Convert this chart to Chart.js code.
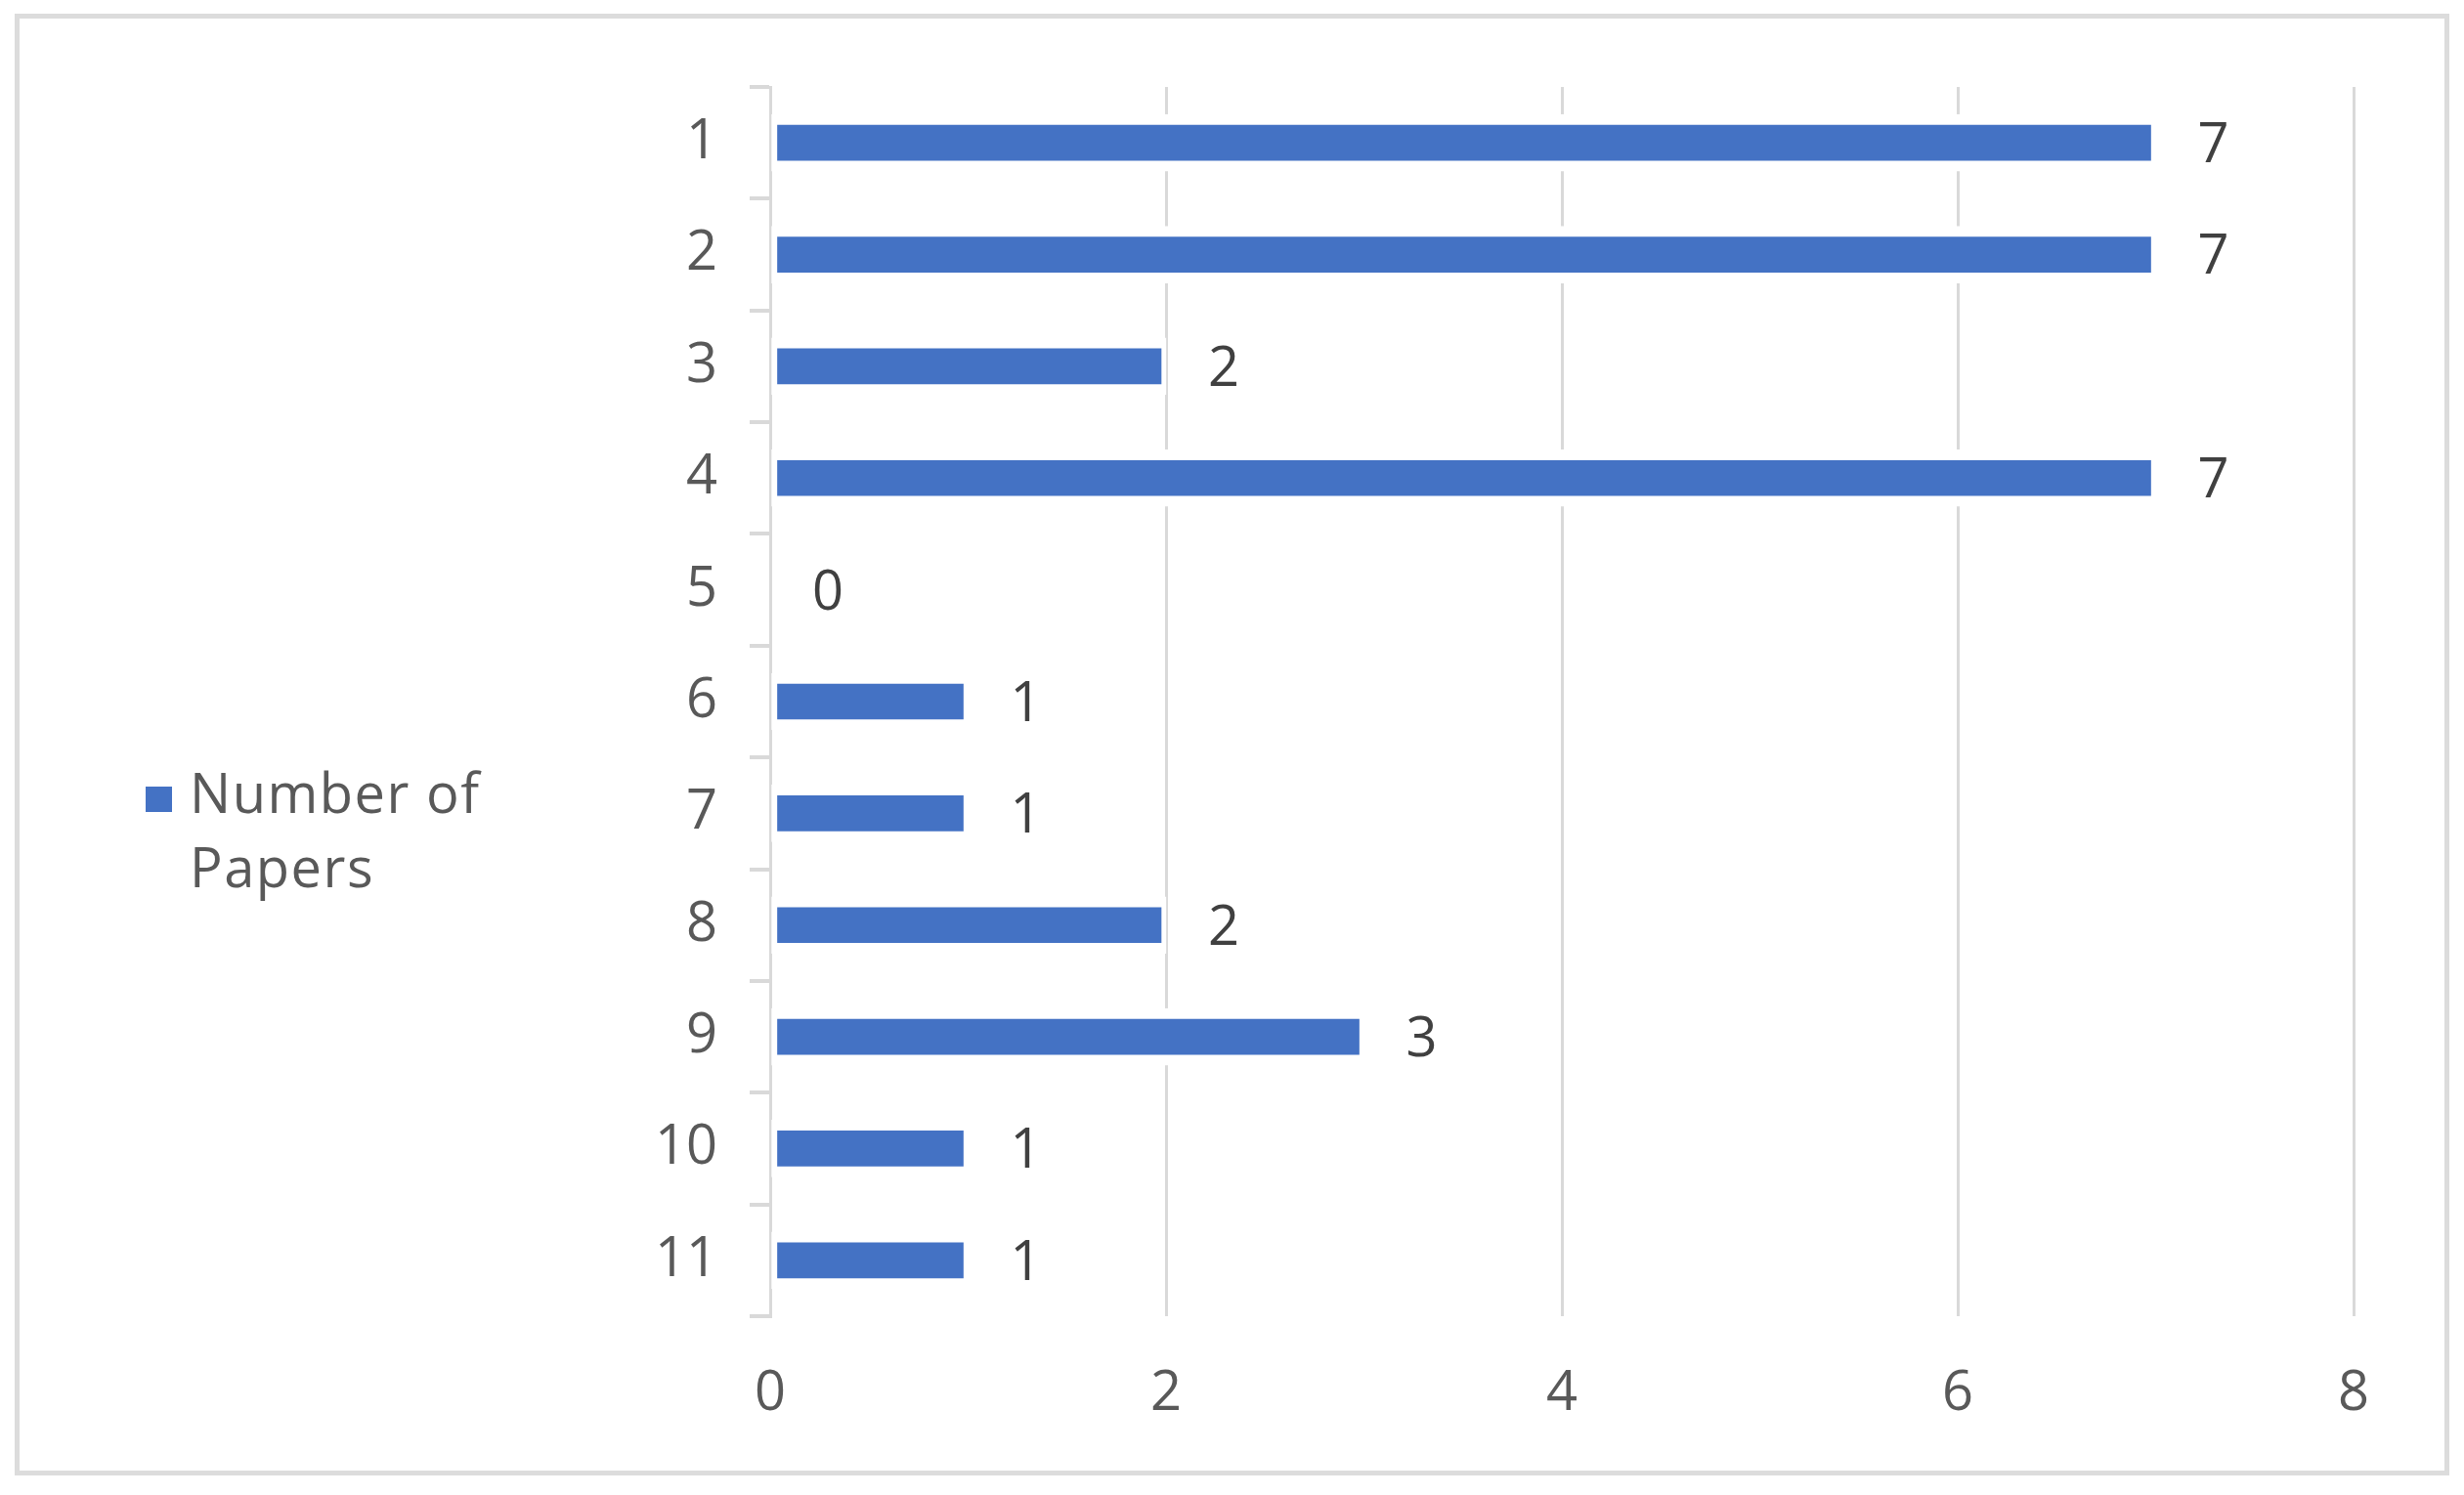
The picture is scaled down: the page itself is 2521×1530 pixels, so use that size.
<!DOCTYPE html>
<html>
<head>
<meta charset="utf-8">
<script src="https://cdn.jsdelivr.net/npm/chart.js@4"></script>
<style>
  html, body { margin: 0; padding: 0; background: #fff; }
  #wrap { width: 2521px; height: 1530px; position: relative; }
</style>
</head>
<body>
<div id="wrap"><canvas id="papersChart"></canvas></div>
<script>
const categories = ['1', '2', '3', '4', '5', '6', '7', '8', '9', '10', '11'];
const paperCounts = [7, 7, 2, 7, 0, 1, 1, 2, 3, 1, 1];
const xTicks = [0, 2, 4, 6, 8];
const seriesName = ['Number of', 'Papers'];

const FONT = '"Open Sans", "Liberation Sans", sans-serif';
const GRID = '#d9d9d9';
const BAR = '#4472c4';

// frame round the whole picture
const framePlugin = {
    id: 'frame',
    beforeDraw(chart) {
        const ctx = chart.ctx;
        ctx.save();
        ctx.fillStyle = '#fff';
        ctx.fillRect(0, 0, chart.width, chart.height);
        ctx.strokeStyle = '#dcdcdc';
        ctx.lineWidth = 5;
        ctx.strokeRect(17.5, 16.5, 2486, 1491);
        ctx.restore();
    }
};

// value labels to the right of each bar
const valueLabels = {
    id: 'valueLabels',
    afterDatasetsDraw(chart) {
        const ctx = chart.ctx;
        const x = chart.scales.x;
        const meta = chart.getDatasetMeta(0);
        ctx.save();
        ctx.font = '56px ' + FONT;
        ctx.fillStyle = '#404040';
        ctx.textAlign = 'left';
        ctx.textBaseline = 'middle';
        meta.data.forEach((bar, i) => {
            const v = paperCounts[i];
            ctx.fillText(String(v), x.getPixelForValue(v) + 43, bar.y + 4);
        });
        ctx.restore();
    }
};

// legend on the left, two lines
const sideLegend = {
    id: 'sideLegend',
    afterDraw(chart) {
        const ctx = chart.ctx;
        ctx.save();
        ctx.fillStyle = BAR;
        ctx.fillRect(149, 805, 27, 26);
        ctx.font = '56px ' + FONT;
        ctx.fillStyle = '#595959';
        ctx.textAlign = 'left';
        ctx.textBaseline = 'alphabetic';
        if ('letterSpacing' in ctx) ctx.letterSpacing = '1.5px';
        seriesName.forEach((line, i) => {
            ctx.fillText(line, 194, 832 + i * 76);
        });
        ctx.restore();
    }
};

document.addEventListener('DOMContentLoaded', function () {
    if (typeof Chart === 'undefined') {
        console.error('Chart.js is not loaded');
        return;
    }
    new Chart(document.getElementById('papersChart').getContext('2d'), {
        type: 'bar',
        data: {
            labels: categories,
            datasets: [{
                label: seriesName.join(' '),
                data: paperCounts,
                backgroundColor: BAR,
                borderColor: '#ffffff',
                borderWidth: { top: 11, bottom: 11, left: 6, right: 5 },
                borderSkipped: false,
                barThickness: 58
            }]
        },
        options: {
            indexAxis: 'y',
            responsive: true,
            maintainAspectRatio: false,
            animation: false,
            layout: { padding: { top: 89, right: 113, bottom: 75, left: 0 } },
            plugins: {
                legend: { display: false },
                tooltip: { enabled: false }
            },
            scales: {
                x: {
                    min: 0,
                    max: 8,
                    afterBuildTicks: s => { s.ticks = xTicks.map(v => ({ value: v })); },
                    afterFit: s => { s.height = 108; },
                    grid: { color: GRID, lineWidth: 3, drawTicks: false },
                    border: { display: false },
                    ticks: {
                        padding: 46,
                        color: '#595959',
                        font: { family: FONT, size: 56 }
                    }
                },
                y: {
                    z: 1,
                    afterFit: s => { s.width = 788; },
                    grid: {
                        offset: true,
                        drawOnChartArea: false,
                        drawTicks: true,
                        tickLength: 21,
                        color: GRID,
                        lineWidth: 4
                    },
                    border: { display: true, color: GRID, width: 3 },
                    ticks: {
                        padding: 33,
                        color: '#595959',
                        font: { family: FONT, size: 56 }
                    }
                }
            }
        },
        plugins: [framePlugin, valueLabels, sideLegend]
    });
});
</script>
</body>
</html>
